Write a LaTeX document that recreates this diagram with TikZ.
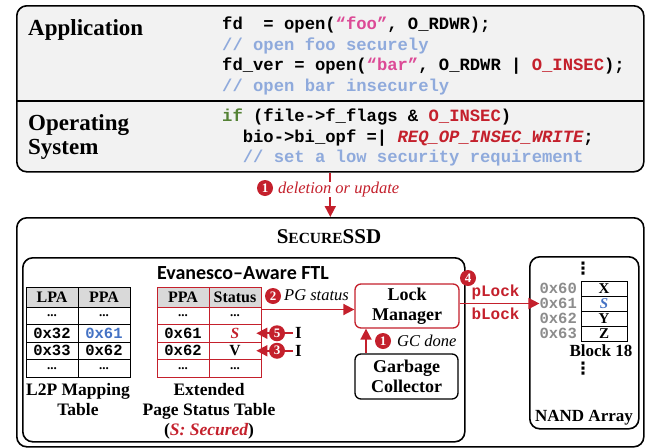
\documentclass[tikz,border=0pt]{standalone}
\usepackage{fontspec}
\setmainfont{Liberation Serif}
\setmonofont{Liberation Mono}
\setsansfont{Liberation Sans}
\newfontfamily\ftlsans{Carlito}
\newfontfamily\symfont{DejaVu Sans}
\usetikzlibrary{arrows.meta}

\definecolor{accred}{RGB}{196,32,44}
\definecolor{strpink}{RGB}{220,74,150}
\definecolor{kwgreen}{RGB}{84,130,53}
\definecolor{cmtblue}{RGB}{143,170,220}
\definecolor{valblue}{RGB}{68,114,196}
\definecolor{addrgray}{RGB}{140,140,140}
\definecolor{hostfill}{RGB}{242,242,242}
\definecolor{headfill}{RGB}{217,217,217}

\newcommand{\fsz}[1]{\fontsize{#1}{#1}\selectfont}
% ellipsis used in the elided table rows
\newcommand{\elide}{{\rmfamily\fsz{13}...}}

\tikzset{
  panel/.style={draw=black, line width=1.6pt, rounded corners=10pt, inner sep=0pt, anchor=north west},
  layername/.style={anchor=base west, inner sep=0pt, align=left, font=\bfseries\fontsize{23}{24}\selectfont},
  codeline/.style={anchor=base west, inner sep=0pt, font=\ttfamily\bfseries\fsz{17.2}},
  hcell/.style={draw, fill=headfill, line width=0.8pt, minimum width=52pt, minimum height=20pt, inner sep=0pt, font=\bfseries\fsz{16}},
  dcell/.style={draw, line width=0.8pt, minimum width=52pt, minimum height=17.5pt, inner sep=0pt, font=\ttfamily\bfseries\fsz{15.5}},
  tabcap/.style={anchor=base, inner sep=0pt, font=\bfseries\fsz{17.5}},
  unit/.style={draw, line width=1.3pt, rounded corners=6pt, fill=white, inner sep=0pt, align=center, font=\bfseries\fontsize{18}{20.5}\selectfont},
  badge/.style={circle, fill=accred, text=white, inner sep=0pt, minimum size=16pt, font=\rmfamily\bfseries\fsz{13}},
  flow/.style={draw=accred, line width=1.8pt, -{Triangle[length=11pt,width=11pt]}},
  note/.style={anchor=base west, inner sep=0pt, font=\itshape\fsz{16.5}},
  lockop/.style={inner sep=0pt, text=accred, font=\ttfamily\bfseries\fsz{16}},
  addr/.style={anchor=east, inner sep=0pt, text=addrgray, font=\ttfamily\bfseries\fsz{15.5}},
  bcell/.style={draw, line width=0.8pt, minimum width=46pt, minimum height=15pt, inner sep=0pt, font=\bfseries\fsz{15}},
  dotcol/.style={inner sep=0pt, font=\symfont\bfseries\fsz{17}},
}

\begin{document}
\begin{tikzpicture}[x=1pt,y=-1pt]
\useasboundingbox (0,0) rectangle (647,447);

% ---------------- host software stack ----------------
\node[panel, fill=hostfill, minimum width=627pt, minimum height=166pt] (host) at (16,5) {};
\draw[line width=1.6pt] (16,101) -- (643,101);

\node[layername] (app) at (28,35) {Application};
\node[layername] (os) at (28,154) {Operating\\[0pt]System};

\node[codeline] (c1) at (222,29) {fd\ \ = open(\textcolor{strpink}{“foo”}, O\_RDWR);};
\node[codeline, text=cmtblue] (c2) at (222,50) {// open foo securely};
\node[codeline] (c3) at (222,70) {fd\_ver = open(\textcolor{strpink}{“bar”}, O\_RDWR | \textcolor{accred}{O\_INSEC});};
\node[codeline, text=cmtblue] (c4) at (222,91) {// open bar insecurely};
\node[codeline] (c5) at (222,121) {\textcolor{kwgreen}{if} (file->f\_flags \& \textcolor{accred}{O\_INSEC})};
\node[codeline] (c6) at (242.6,142) {bio->bi\_opf =| \textcolor{accred}{\itshape REQ\_OP\_INSEC\_WRITE};};
\node[codeline, text=cmtblue] (c7) at (242.6,162) {// set a low security requirement};

% ---------------- the SSD ----------------
\node[panel, minimum width=627pt, minimum height=229pt] (ssd) at (16,217) {};
\draw[flow] (host.south) -- (ssd.north);
\node[note, text=accred, fill=white] (delnote) at (278,193) {deletion or update};
\node[badge] (b1) at (265,188) {1};

\node[anchor=base, inner sep=0pt, font=\bfseries] (ssdname) at (329,243)
  {\fsz{21}S\fsz{15.5}ECURE\fsz{21}SSD};

% FTL
\node[panel, minimum width=442pt, minimum height=184pt] (ftl) at (22,257) {};
\node[anchor=base, inner sep=0pt, font=\ftlsans\bfseries\fsz{20}] (ftlname) at (243,279) {Evanesco–Aware FTL};

% L2P mapping table
\node[hcell] (l0) at (52,297) {LPA};
\node[hcell] (p0) at (104,297) {PPA};
\foreach \r/\yy/\a/\b in {1/315.75/\elide/\elide,
                          2/333.25/0x32/{\textcolor{valblue}{0x61}},
                          3/350.75/0x33/0x62,
                          4/368.25/\elide/\elide}{
  \node[dcell] (l\r) at (52,\yy) {\a};
  \node[dcell] (p\r) at (104,\yy) {\b};
}
\node[tabcap] (l2pcap1) at (78,395) {L2P Mapping};
\node[tabcap] (l2pcap2) at (78,415) {Table};

% extended page status table
\node[hcell, draw=accred] (q0) at (183,297) {PPA};
\node[hcell, draw=accred] (s0) at (235,297) {Status};
\foreach \r/\yy/\a/\b in {1/315.75/\elide/\elide,
                          2/333.25/0x61/{\rmfamily\itshape\textcolor{accred}{S}},
                          3/350.75/0x62/{\rmfamily V},
                          4/368.25/\elide/\elide}{
  \node[dcell, draw=accred] (q\r) at (183,\yy) {\a};
  \node[dcell, draw=accred] (s\r) at (235,\yy) {\b};
}
\node[tabcap] (pstcap1) at (209,395) {Extended};
\node[tabcap] (pstcap2) at (209,415) {Page Status Table};
\node[tabcap] (pstcap3) at (209,435) {(\textcolor{accred}{\itshape S: Secured})};

% lock manager and garbage collector
\node[unit, draw=accred, minimum width=104pt, minimum height=44pt] (lm) at (407,306) {Lock\\Manager};
\node[unit, minimum width=103pt, minimum height=45pt] (gc) at (406.5,376.5) {Garbage\\Collector};

% page status query
\coordinate (pgsrc) at (261,309.5);
\draw[flow] (pgsrc) -- (lm.west |- pgsrc);
\node[badge] (b2) at (273,296) {2};
\node[note] (pgnote) at (284,300) {PG status};

% invalidation inputs
\node[inner sep=0pt, anchor=west, font=\bfseries\fsz{17}] (i5) at (295,333.25) {I};
\node[inner sep=0pt, anchor=west, font=\bfseries\fsz{17}] (i3) at (295,350.75) {I};
\draw[flow, shorten <=2pt] (i5.west) -- ([xshift=-5pt]s2.east);
\draw[flow, shorten <=2pt] (i3.west) -- ([xshift=-5pt]s3.east);
\node[badge] (b5) at (277,333.25) {5};
\node[badge] (b3) at (277,350.75) {3};

% GC completion
\coordinate (gcx) at (366,0);
\draw[flow] (gc.north -| gcx) -- (lm.south -| gcx);
\node[badge] (b1gc) at (383,341) {1};
\node[note] (gcnote) at (397,346.5) {GC done};

% NAND array
\node[panel, minimum width=109pt, minimum height=172pt] (nand) at (529,256) {};
\node[dotcol] (vd1) at (583,268.5) {⋮};
\node[addr] (a60) at (577,288.5) {0x60};
\node[addr] (a61) at (577,303.5) {0x61};
\node[addr] (a62) at (577,318.5) {0x62};
\node[addr] (a63) at (577,333.5) {0x63};
\node[bcell] (px) at (604,288.5) {X};
\node[bcell] (ps) at (604,303.5) {\itshape\textcolor{valblue}{S}};
\node[bcell] (py) at (604,318.5) {Y};
\node[bcell] (pz) at (604,333.5) {Z};
\node[anchor=base, inner sep=0pt, font=\bfseries\fsz{17}] (blk) at (601,356) {Block 18};
\node[dotcol] (vd2) at (583,369) {⋮};
\node[anchor=base, inner sep=0pt, font=\bfseries\fsz{17}] (nandname) at (584,421) {NAND Array};

% lock request to flash
\draw[flow] (lm.east |- a61.west) -- (a61.west);
\node[badge] (b4) at (468,278) {4};
\node[lockop] (plock) at (495.5,292) {pLock};
\node[lockop] (block) at (495.5,313.5) {bLock};

\end{tikzpicture}
\end{document}
